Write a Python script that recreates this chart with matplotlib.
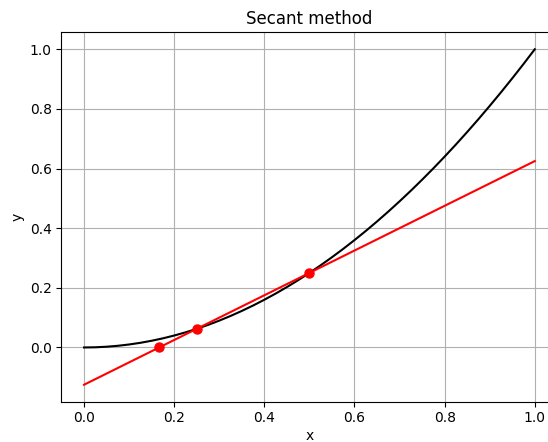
import matplotlib.pyplot as plt

# curve values (y = x^2)
curve_x = [0.0, 0.025, 0.05, 0.075, 0.1, 0.125, 0.15, 0.175, 0.2, 0.225,
           0.25, 0.275, 0.3, 0.325, 0.35, 0.375, 0.4, 0.425, 0.45, 0.475,
           0.5, 0.525, 0.55, 0.575, 0.6, 0.625, 0.65, 0.675, 0.7, 0.725,
           0.75, 0.775, 0.8, 0.825, 0.85, 0.875, 0.9, 0.925, 0.95, 0.975, 1.0]
curve_y = [0.0, 0.0006, 0.0025, 0.0056, 0.01, 0.0156, 0.0225, 0.0306, 0.04, 0.0506,
           0.0625, 0.0756, 0.09, 0.1056, 0.1225, 0.1406, 0.16, 0.1806, 0.2025, 0.2256,
           0.25, 0.2756, 0.3025, 0.3306, 0.36, 0.3906, 0.4225, 0.4556, 0.49, 0.5256,
           0.5625, 0.6006, 0.64, 0.6806, 0.7225, 0.7656, 0.81, 0.8556, 0.9025, 0.9506, 1.0]

# secant line endpoints
line_x = [0.0, 1.0]
line_y = [-0.125, 0.625]

# iterate points
pts_x = [0.5, 0.25, 0.1667]
pts_y = [0.25, 0.0625, 0.0]

fig = plt.figure(figsize=(5.48, 4.42), dpi=100)
# the reference is cropped: the right spine lies just past the picture edge
plt.subplots_adjust(left=0.1122, right=1.017, top=0.9265, bottom=0.0916)
plt.plot(curve_x, curve_y, "k-")
plt.plot(line_x, line_y, "r-")
plt.plot(pts_x, pts_y, "ro", markersize=6.5)
plt.title("Secant method")
plt.xlabel("x", labelpad=2.5)
plt.ylabel("y")
plt.grid(True)
plt.savefig("out.png")
